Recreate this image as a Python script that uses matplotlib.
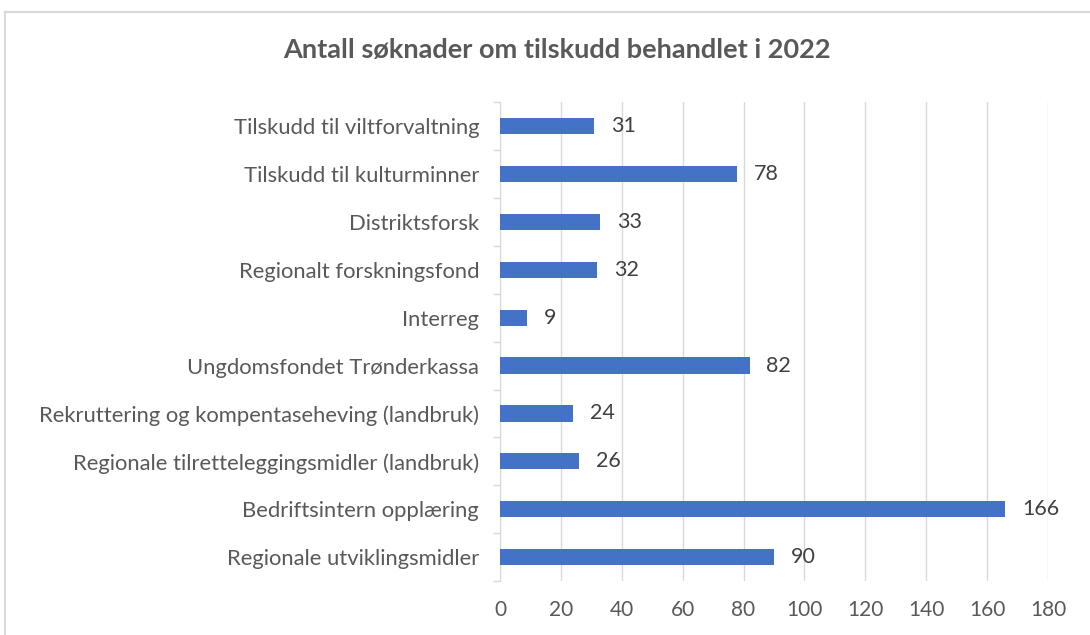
import numpy as np
from matplotlib import pyplot as plt
from matplotlib.lines import Line2D

kategorier = ["Tilskudd til viltforvaltning", "Tilskudd til kulturminner", "Distriktsforsk",
              "Regionalt forskningsfond", "Interreg", "Ungdomsfondet Trønderkassa",
              "Rekruttering og kompentaseheving (landbruk)",
              "Regionale tilretteleggingsmidler (landbruk)",
              "Bedriftsintern opplæring", "Regionale utviklingsmidler"]
antall = [31, 78, 33, 32, 9, 82, 24, 26, 166, 90]
x_ticks = [0, 20, 40, 60, 80, 100, 120, 140, 160, 180]

plt.rcParams['font.family'] = ['Lato', 'DejaVu Sans']

fig = plt.figure(figsize=(10.9, 6.35), dpi=100)
ax = fig.add_axes([0.4587, 0.085, 0.5028, 0.754])

y = np.arange(len(kategorier))[::-1]
ax.barh(y, antall, height=0.34, color='#4472C4', zorder=3)
for yi, v in zip(y, antall):
    ax.text(v + 5.5, yi, str(v), va='center', ha='left', fontsize=15.5, color='#404040')

ax.set_xlim(0, 180)
ax.set_ylim(-0.5, len(kategorier) - 0.5)
ax.set_xticks(x_ticks)
ax.set_yticks(y)
ax.set_yticklabels(kategorier)
ax.set_yticks(np.arange(-0.5, len(kategorier)), minor=True)
ax.tick_params(axis='y', which='major', length=0, pad=15, labelsize=15.8, labelcolor='#595959')
ax.tick_params(axis='y', which='minor', length=5, color='#D9D9D9', width=1)
ax.tick_params(axis='x', length=0, pad=14, labelsize=15, labelcolor='#595959')
ax.grid(axis='x', color='#D9D9D9', linewidth=1, zorder=0)
for s in ['top', 'right', 'bottom']:
    ax.spines[s].set_visible(False)
ax.spines['left'].set_color('#D9D9D9')

fig.text(0.511, 0.921, "Antall søknader om tilskudd behandlet i 2022", ha='center', va='center',
         fontsize=19.5, fontweight='bold', color='#595959')

# ramme rundt diagrammet
fig.add_artist(Line2D([5/1090, 1], [1 - 12/635, 1 - 12/635], color='#D9D9D9', lw=1.5))
fig.add_artist(Line2D([5/1090, 5/1090], [0, 1 - 12/635], color='#D9D9D9', lw=1.5))

fig.savefig('out.png', dpi=100)
